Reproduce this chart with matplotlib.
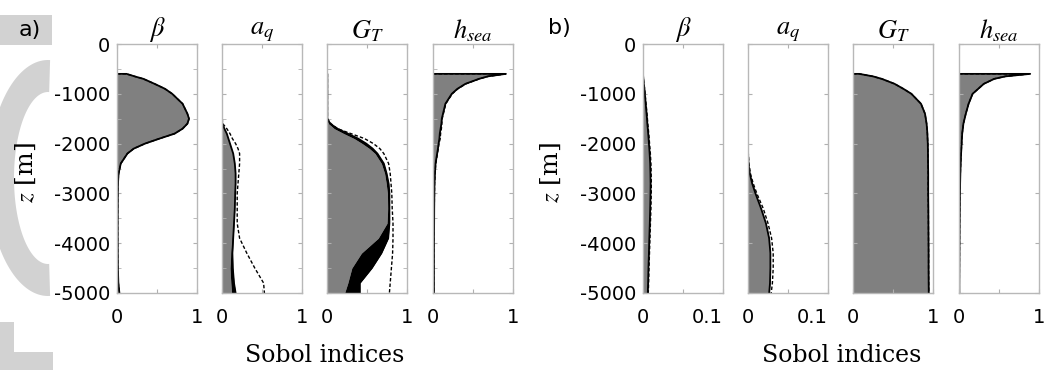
import matplotlib.pyplot as plt
import matplotlib.patches as mpatches
import numpy as np

plt.rcParams['font.family'] = ['DejaVu Sans']
plt.rcParams['mathtext.fontset'] = 'stix'

W, H = 1047, 379

# depth grid [m]
z = [-600, -650, -700, -800, -900, -1000, -1200, -1400, -1500, -1600, -1700, -1800, -1900,
     -2000, -2100, -2200, -2400, -2600, -2800, -3000, -3300, -3600, -3900, -4200, -4500,
     -4800, -5000]

# a) first order (gray), first+interaction (solid), total (dashed)
a_beta_s1 = [0.12, 0.22, 0.33, 0.47, 0.60, 0.69, 0.82, 0.88, 0.90, 0.88, 0.82, 0.72, 0.53,
             0.35, 0.21, 0.13, 0.045, 0.018, 0.01, 0.008, 0.007, 0.006, 0.006, 0.007, 0.009,
             0.014, 0.025]
a_beta_s2 = [0.12, 0.22, 0.33, 0.47, 0.60, 0.69, 0.82, 0.88, 0.90, 0.88, 0.82, 0.72, 0.53,
             0.35, 0.21, 0.13, 0.047, 0.02, 0.012, 0.01, 0.009, 0.008, 0.008, 0.009, 0.011,
             0.017, 0.03]
a_beta_st = [0.12, 0.22, 0.33, 0.47, 0.60, 0.69, 0.82, 0.88, 0.90, 0.88, 0.82, 0.72, 0.53,
             0.35, 0.21, 0.13, 0.047, 0.02, 0.012, 0.01, 0.009, 0.008, 0.008, 0.009, 0.011,
             0.017, 0.03]

a_aq_s1 = [0, 0, 0, 0, 0, 0, 0, 0, 0, 0.003, 0.03, 0.06, 0.08, 0.10, 0.12, 0.14, 0.16, 0.17,
           0.17, 0.165, 0.16, 0.145, 0.125, 0.11, 0.10, 0.11, 0.12]
a_aq_s2 = [0, 0, 0, 0, 0, 0, 0, 0, 0, 0.003, 0.03, 0.06, 0.08, 0.10, 0.12, 0.14, 0.16, 0.17,
           0.17, 0.165, 0.16, 0.15, 0.14, 0.13, 0.135, 0.15, 0.17]
a_aq_st = [0.003, 0.003, 0.003, 0.003, 0.003, 0.003, 0.003, 0.003, 0.003, 0.01, 0.06, 0.10,
           0.13, 0.17, 0.20, 0.22, 0.22, 0.21, 0.20, 0.19, 0.19, 0.19, 0.22, 0.31, 0.41,
           0.52, 0.53]

a_gt_s1 = [0, 0, 0, 0, 0, 0, 0, 0, 0, 0.02, 0.09, 0.21, 0.34, 0.44, 0.53, 0.60, 0.68, 0.72,
           0.74, 0.755, 0.76, 0.75, 0.64, 0.43, 0.31, 0.26, 0.22]
a_gt_s2 = [0.004, 0.004, 0.004, 0.004, 0.004, 0.004, 0.004, 0.004, 0.004, 0.04, 0.13, 0.26,
           0.39, 0.49, 0.57, 0.63, 0.71, 0.745, 0.77, 0.78, 0.78, 0.78, 0.765, 0.68, 0.56,
           0.41, 0.41]
a_gt_st = [0.005, 0.005, 0.005, 0.005, 0.005, 0.005, 0.005, 0.005, 0.005, 0.05, 0.13, 0.30,
           0.47, 0.58, 0.66, 0.71, 0.77, 0.79, 0.80, 0.81, 0.815, 0.825, 0.825, 0.82, 0.805,
           0.79, 0.78]

a_hs_s1 = [0.91, 0.68, 0.57, 0.40, 0.30, 0.23, 0.15, 0.12, 0.105, 0.10, 0.09, 0.08, 0.075,
           0.068, 0.06, 0.05, 0.03, 0.022, 0.017, 0.015, 0.013, 0.012, 0.01, 0.01, 0.01,
           0.01, 0.01]
a_hs_s2 = [0.91, 0.685, 0.575, 0.405, 0.305, 0.235, 0.155, 0.125, 0.11, 0.105, 0.095, 0.085,
           0.08, 0.07, 0.062, 0.052, 0.032, 0.024, 0.019, 0.017, 0.015, 0.014, 0.012, 0.012,
           0.012, 0.012, 0.012]
a_hs_st = [0.91, 0.69, 0.58, 0.41, 0.31, 0.24, 0.16, 0.13, 0.115, 0.11, 0.105, 0.095, 0.09,
           0.075, 0.065, 0.055, 0.035, 0.026, 0.02, 0.018, 0.016, 0.015, 0.014, 0.014, 0.014,
           0.014, 0.014]

# b)
b_beta_st = [0.0, 0.0003, 0.0006, 0.0012, 0.002, 0.0026, 0.0038, 0.005, 0.0055, 0.006,
             0.0066, 0.0072, 0.0077, 0.0082, 0.0087, 0.0092, 0.0099, 0.0102, 0.0104, 0.0103,
             0.0099, 0.0093, 0.0087, 0.0081, 0.0075, 0.007, 0.0066]
b_beta_s1 = [0.0, 0.0002, 0.0005, 0.001, 0.0018, 0.0023, 0.0034, 0.0045, 0.005, 0.0054,
             0.006, 0.0065, 0.007, 0.0074, 0.0079, 0.0083, 0.009, 0.0093, 0.0095, 0.0094,
             0.009, 0.0085, 0.0079, 0.0074, 0.0068, 0.0064, 0.006]
b_beta_s2 = b_beta_s1

b_aq_s1 = [0, 0, 0, 0, 0, 0, 0, 0, 0, 0, 0, 0, 0, 0, 0, 0, 0.0005, 0.002, 0.005, 0.009,
           0.016, 0.022, 0.026, 0.0275, 0.0275, 0.027, 0.026]
b_aq_s2 = [0, 0, 0, 0, 0, 0, 0, 0, 0, 0, 0, 0, 0, 0, 0, 0.0001, 0.0006, 0.0022, 0.0052,
           0.0093, 0.0163, 0.0224, 0.0264, 0.028, 0.028, 0.0275, 0.0265]
b_aq_st = [0.0003, 0.0003, 0.0003, 0.0003, 0.0003, 0.0003, 0.0003, 0.0003, 0.0003, 0.0003,
           0.0003, 0.0003, 0.0003, 0.0003, 0.0003, 0.0004, 0.0012, 0.003, 0.0065, 0.011,
           0.019, 0.025, 0.0295, 0.0315, 0.0315, 0.0305, 0.029]

b_gt_s1 = [0.08, 0.25, 0.36, 0.52, 0.63, 0.73, 0.85, 0.90, 0.91, 0.92, 0.925, 0.93, 0.932,
           0.935, 0.936, 0.937, 0.938, 0.94, 0.94, 0.94, 0.942, 0.943, 0.944, 0.945, 0.945,
           0.946, 0.947]
b_gt_s2 = b_gt_s1
b_gt_st = b_gt_s1

b_hs_s1 = [0.89, 0.58, 0.44, 0.31, 0.24, 0.17, 0.12, 0.085, 0.07, 0.055, 0.048, 0.04, 0.036,
           0.033, 0.03, 0.026, 0.021, 0.017, 0.014, 0.012, 0.01, 0.008, 0.007, 0.006, 0.005,
           0.004, 0.004]
b_hs_s2 = b_hs_s1
b_hs_st = b_hs_s1

titles = [r'$\beta$', r'$a_q$', r'$G_T$', r'$h_{sea}$']
panels_a = [(a_beta_s1, a_beta_s2, a_beta_st), (a_aq_s1, a_aq_s2, a_aq_st),
            (a_gt_s1, a_gt_s2, a_gt_st), (a_hs_s1, a_hs_s2, a_hs_st)]
panels_b = [(b_beta_s1, b_beta_s2, b_beta_st), (b_aq_s1, b_aq_s2, b_aq_st),
            (b_gt_s1, b_gt_s2, b_gt_st), (b_hs_s1, b_hs_s2, b_hs_st)]
xmax_b = [0.1, 0.1, 1, 1]

fig = plt.figure(figsize=(W / 100, H / 100), dpi=100)

# faint grey watermark pieces along the left margin (pixel coordinates)
bg = fig.add_axes([0, 0, 1, 1], zorder=-1)
bg.set_xlim(0, W)
bg.set_ylim(H, 0)
bg.axis('off')
wm = '#d2d2d2'
bg.add_patch(mpatches.Rectangle((0, 15), 52, 30, color=wm, lw=0))
t = np.radians(np.linspace(88, 272, 80))
cx, cy = 48, 178
outer = np.c_[cx + 60 * np.cos(t), cy - 118 * np.sin(t)]
inner = np.c_[cx + 34 * np.cos(t[::-1]), cy - 86 * np.sin(t[::-1])]
bg.add_patch(mpatches.Polygon(np.r_[outer, inner], closed=True, color=wm, lw=0))
bg.add_patch(mpatches.Rectangle((0, 322), 14, 48, color=wm, lw=0))
bg.add_patch(mpatches.Rectangle((0, 352), 53, 18, color=wm, lw=0))

def add_panel(left, data, xmax, title, first, minor):
    ax = fig.add_axes([left / W, (H - 293) / H, 80 / W, 249 / H])
    s1, s2, st = (np.array(d) for d in data)
    zz = np.array(z)
    ax.fill_betweenx(zz, 0, s1, color='#808080', lw=0)
    ax.fill_betweenx(zz, s1, s2, color='black', lw=0)
    ax.plot(np.r_[0, s2], np.r_[z[0], zz], color='black', lw=1.3)
    ax.plot(np.r_[0, st], np.r_[z[0], zz], color='black', lw=1.0, ls=(0, (2.5, 1.5)))
    ax.set_xlim(0, xmax)
    ax.set_ylim(-5000, 0)
    ax.set_xticks([0, xmax / 2, xmax])
    ax.set_xticklabels(['0', '', f'{xmax:g}'])
    ax.set_yticks(range(-5000, 1, 1000))
    if minor:
        ax.set_yticks(range(-4500, 0, 1000), minor=True)
    if first:
        ax.set_yticklabels([str(v) for v in range(-5000, 1, 1000)])
    else:
        ax.set_yticklabels([])
    ax.tick_params(which='both', direction='in', top=True, right=True, length=3,
                   color='#b0b0b0', labelsize=14, pad=5)
    ax.tick_params(axis='x', pad=11)
    for lab in ax.get_xticklabels():
        if lab.get_text() == '0.1':
            lab.set_ha('right')
    for sp in ax.spines.values():
        sp.set_color('#b8b8b8')
        sp.set_linewidth(1)
    ax.set_title(title, fontsize=19, pad=3)
    return ax

for i, left in enumerate([117, 222, 327, 433]):
    add_panel(left, panels_a[i], 1, titles[i], i == 0, True)
for i, left in enumerate([643, 748, 853, 959]):
    add_panel(left, panels_b[i], xmax_b[i], titles[i], i == 0, False)

for xc, lab in [(325, 'Sobol indices'), (842, 'Sobol indices')]:
    fig.text(xc / W, 1 - 355 / H, lab, ha='center', va='center', fontsize=17,
             family='DejaVu Serif')
for xc in [26, 551]:
    fig.text(xc / W, 1 - 173 / H, '$z$ [m]', ha='center', va='center', rotation=90,
             fontsize=18, family='DejaVu Serif')
fig.text(30 / W, 1 - 30 / H, 'a)', ha='center', va='center', fontsize=16)
fig.text(559 / W, 1 - 28 / H, 'b)', ha='center', va='center', fontsize=16)

fig.savefig('out.png', dpi=100)
